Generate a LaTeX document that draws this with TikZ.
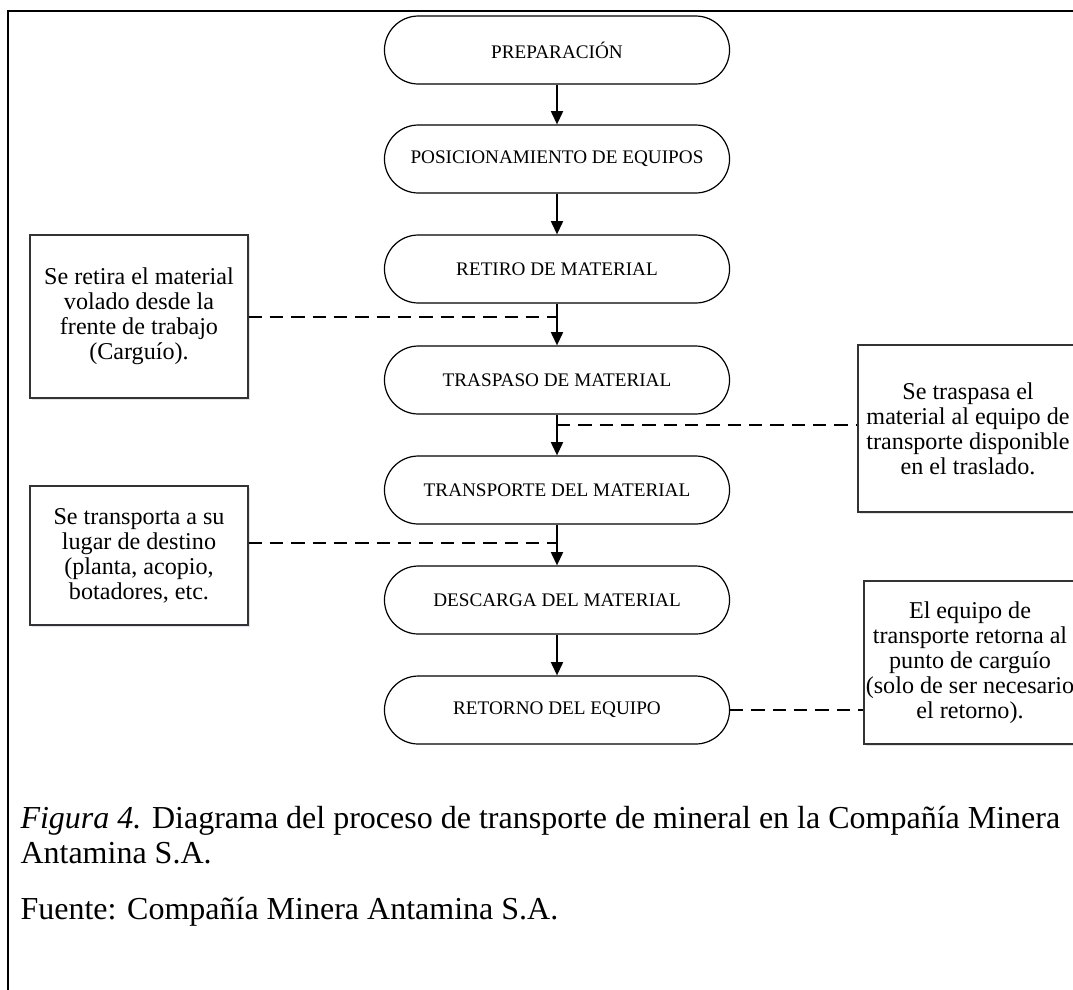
\documentclass[tikz,border=0pt]{standalone}
\usepackage{fontspec}
\setmainfont{Liberation Serif}
\usetikzlibrary{arrows.meta,shadows}
\begin{document}
\begin{tikzpicture}[x=0.375pt,y=-0.375pt,
  stage/.style={draw=black, line width=0.45pt, rounded corners=12.75pt,
    minimum width=129.4pt, minimum height=25.5pt, inner sep=0pt,
    font=\fontsize{7.2}{8.6}\selectfont},
  note/.style={draw=black!80, line width=0.45pt, fill=white, inner sep=0pt,
    align=center, font=\fontsize{9.05}{9.4}\selectfont,
    drop shadow={shadow xshift=0.6pt, shadow yshift=-0.9pt, opacity=0.3,
      fill=blue!25!gray!60}},
  flow/.style={line width=0.75pt, -{Triangle[length=5pt,width=4.5pt]}},
  link/.style={line width=0.75pt, dash pattern=on 5pt off 3pt},
  caption/.style={anchor=base west, inner sep=0pt,
    font=\fontsize{12}{13.8}\selectfont, align=left}
]
\useasboundingbox (0,0) rectangle (1073,989);
\clip (0,0) rectangle (1073,989);

% outer frame
\draw[line width=0.75pt] (8,1000) -- (8,11) -- (1090,11);

% process stages
\node[stage] (s1) at (557,50)  {PREPARACIÓN};
\node[stage] (s2) at (557,159) {POSICIONAMIENTO DE EQUIPOS};
\node[stage] (s3) at (557,269) {RETIRO DE MATERIAL};
\node[stage] (s4) at (557,380) {TRASPASO DE MATERIAL};
\node[stage] (s5) at (557,490) {TRANSPORTE DEL MATERIAL};
\node[stage] (s6) at (557,600) {DESCARGA DEL MATERIAL};
\node[stage] (s7) at (557,710) {RETORNO DEL EQUIPO};

% explanatory notes
\node[note, minimum width=81.75pt, minimum height=61.1pt] (n1) at (139,316.5)
  {Se retira el material\\volado desde la\\frente de trabajo\\(Carguío).};
\node[note, minimum width=82.5pt, minimum height=62.6pt] (n2) at (968,428.5)
  {Se traspasa el\\material al equipo de\\transporte disponible\\en el traslado.};
\node[note, minimum width=81.75pt, minimum height=52.1pt] (n3) at (139,555.5)
  {Se transporta a su\\lugar de destino\\(planta, acopio,\\botadores, etc.};
\node[note, minimum width=79.5pt, minimum height=61.1pt] (n4) at (970,662.5)
  {El equipo de\\transporte retorna al\\punto de carguío\\(solo de ser necesario\\el retorno).};

% junctions on the main flow line
\coordinate (j1) at (557,317);
\coordinate (j2) at (557,425);
\coordinate (j3) at (557,543);

% dashed links from the notes
\draw[link] (n1.east |- j1) -- (j1);
\draw[link] (j2) -- (j2 -| n2.west);
\draw[link] (n3.east |- j3) -- (j3);
\draw[link] (s7.east) -- (s7.east -| n4.west);

% flow arrows
\draw[flow] (s1.south) -- (s2.north);
\draw[flow] (s2.south) -- (s3.north);
\draw[flow] (s3.south) -- (s4.north);
\draw[flow] (s4.south) -- (s5.north);
\draw[flow] (s5.south) -- (s6.north);
\draw[flow] (s6.south) -- (s7.north);

% caption
\node[caption] (cap1) at (20,828)
  {\textit{Figura 4.} Diagrama del proceso de transporte de mineral en la Compañía Minera};
\node[caption] (cap2) at (20,863) {Antamina S.A.};
\node[caption] (src) at (20,919) {Fuente: Compañía Minera Antamina S.A.};
\end{tikzpicture}
\end{document}
